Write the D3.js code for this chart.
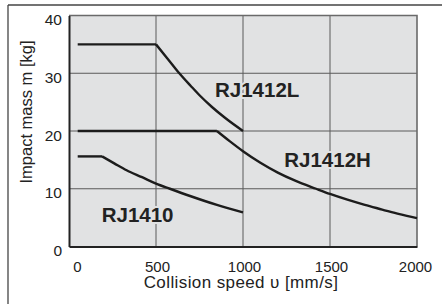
<!DOCTYPE html>
<html>
<head>
<meta charset="utf-8">
<script src="https://cdn.jsdelivr.net/npm/d3@7"></script>
<style>
  html, body { margin: 0; padding: 0; background: #fff; }
  svg { display: block; font-family: "Liberation Sans", Arial, Helvetica, sans-serif; }
</style>
</head>
<body>
<svg id="chart" width="442" height="304"></svg>
<script>
// ---- data ----
const xTicks = [0, 500, 1000, 1500, 2000];
const yTicks = [0, 10, 20, 30, 40];

const rj1412L_speed = [50, 500, 570, 634, 700, 753, 820, 900, 1000];
const rj1412L_mass  = [35, 35, 32.4, 30, 27.8, 26.1, 24.2, 22.2, 20];

const rj1412H_speed = [50, 850, 925, 1000, 1100, 1200, 1300, 1420, 1500, 1600, 1700, 1800, 1900, 2000];
const rj1412H_mass  = [20, 20, 18.2, 16.5, 14.5, 12.8, 11.4, 10.0, 9.1, 8.1, 7.2, 6.4, 5.6, 4.9];

const rj1410_speed = [50, 190, 260, 331, 420, 500, 580, 700, 850, 1000];
const rj1410_mass  = [15.6, 15.6, 14.4, 13.2, 12.0, 10.9, 10.0, 8.7, 7.2, 5.9];

const seriesNames  = ["RJ1412L", "RJ1412H", "RJ1410"];
const labelSpeed   = [839, 1237, 188];
const labelMass    = [25.9, 13.8, 4.3];

const xTitle = "Collision speed \u03c5 [mm/s]";
const yTitle = "Impact mass m [kg]";

// ---- layout ----
const svg = d3.select("#chart");
const plot = { left: 69, right: 417, top: 15.5, bottom: 246.5 };
const x = d3.scaleLinear().domain([0, 2000]).range([plot.left, plot.right]);
const y = d3.scaleLinear().domain([0, 40]).range([plot.bottom, plot.top]);
const bg = "#e1e2e3";

// outer frame
svg.append("line").attr("x1", 8).attr("x2", 442).attr("y1", 5).attr("y2", 5)
  .attr("stroke", "#444").attr("stroke-width", 1.3);
svg.append("line").attr("x1", 8).attr("x2", 8).attr("y1", 5).attr("y2", 304)
  .attr("stroke", "#444").attr("stroke-width", 1.3);

// plot background
svg.append("rect").attr("x", plot.left).attr("y", plot.top)
  .attr("width", plot.right - plot.left).attr("height", plot.bottom - plot.top)
  .attr("fill", bg);

// grid
const grid = svg.append("g").attr("stroke", "#5a5a5a").attr("stroke-width", 1);
grid.selectAll(".vg").data(xTicks.slice(1, -1)).join("line")
  .attr("x1", d => x(d)).attr("x2", d => x(d))
  .attr("y1", plot.top).attr("y2", plot.bottom);
grid.selectAll(".hg").data(yTicks.slice(1, -1)).join("line")
  .attr("x1", plot.left).attr("x2", plot.right)
  .attr("y1", d => y(d)).attr("y2", d => y(d));

// top & right border (lighter)
svg.append("path")
  .attr("d", `M${plot.left},${plot.top}H${plot.right}V${plot.bottom}`)
  .attr("fill", "none").attr("stroke", "#6a6a6a").attr("stroke-width", 1.6);

// axes
const xAxis = d3.axisBottom(x).tickValues(xTicks).tickSize(0).tickPadding(0).tickFormat(d3.format("d"));
const gx = svg.append("g").attr("transform", `translate(0,${plot.bottom})`).call(xAxis);
gx.select(".domain").attr("stroke", "#222").attr("stroke-width", 2);
gx.selectAll(".tick text")
  .attr("y", 25).attr("dy", null)
  .attr("dx", (d, i) => i === 0 ? 8 : (i === xTicks.length - 1 ? -2 : 1))
  .attr("font-size", 15).attr("fill", "#222")
  .attr("font-family", "'Liberation Sans', Arial, sans-serif");

const yAxis = d3.axisLeft(y).tickValues(yTicks).tickSize(0).tickPadding(7).tickFormat(d3.format("d"));
const gy = svg.append("g").attr("transform", `translate(${plot.left},0)`).call(yAxis);
gy.select(".domain").attr("stroke", "#222").attr("stroke-width", 2);
gy.selectAll(".tick text")
  .attr("dy", 9)
  .attr("font-size", 15.5).attr("fill", "#222")
  .attr("font-family", "'Liberation Sans', Arial, sans-serif");

// curves: flat part straight (sharp corner), falling part smooth
const series = [
  d3.zip(rj1412L_speed, rj1412L_mass),
  d3.zip(rj1412H_speed, rj1412H_mass),
  d3.zip(rj1410_speed, rj1410_mass)
];
const flatGen = d3.line().x(d => x(d[0])).y(d => y(d[1]));
const curveGen = d3.line().x(d => x(d[0])).y(d => y(d[1])).curve(d3.curveMonotoneX);
const cg = svg.append("g").attr("fill", "none").attr("stroke", "#1c1c1c")
  .attr("stroke-width", 2.4).attr("stroke-linejoin", "round");
series.forEach(s => {
  let k = 1;
  while (k < s.length - 1 && s[k + 1][1] === s[0][1]) k++;
  cg.append("path").attr("d", flatGen(s.slice(0, k + 1)));
  cg.append("path").attr("d", curveGen(s.slice(k)));
});

// series labels
svg.append("g").selectAll("text").data(seriesNames).join("text")
  .attr("x", (d, i) => x(labelSpeed[i]))
  .attr("y", (d, i) => y(labelMass[i]))
  .attr("font-size", 20.5).attr("font-weight", "bold").attr("fill", "#222")
  .attr("stroke", bg).attr("stroke-width", 4).attr("paint-order", "stroke")
  .text(d => d);

// axis titles
svg.append("text")
  .attr("x", (plot.left + plot.right) / 2 - 2).attr("y", 288)
  .attr("text-anchor", "middle").attr("font-size", 17).attr("letter-spacing", 0.4)
  .attr("fill", "#222")
  .text(xTitle);

svg.append("text")
  .attr("transform", `translate(32,${112}) rotate(-90)`)
  .attr("text-anchor", "middle").attr("font-size", 16.5).attr("fill", "#222")
  .text(yTitle);
</script>
</body>
</html>
